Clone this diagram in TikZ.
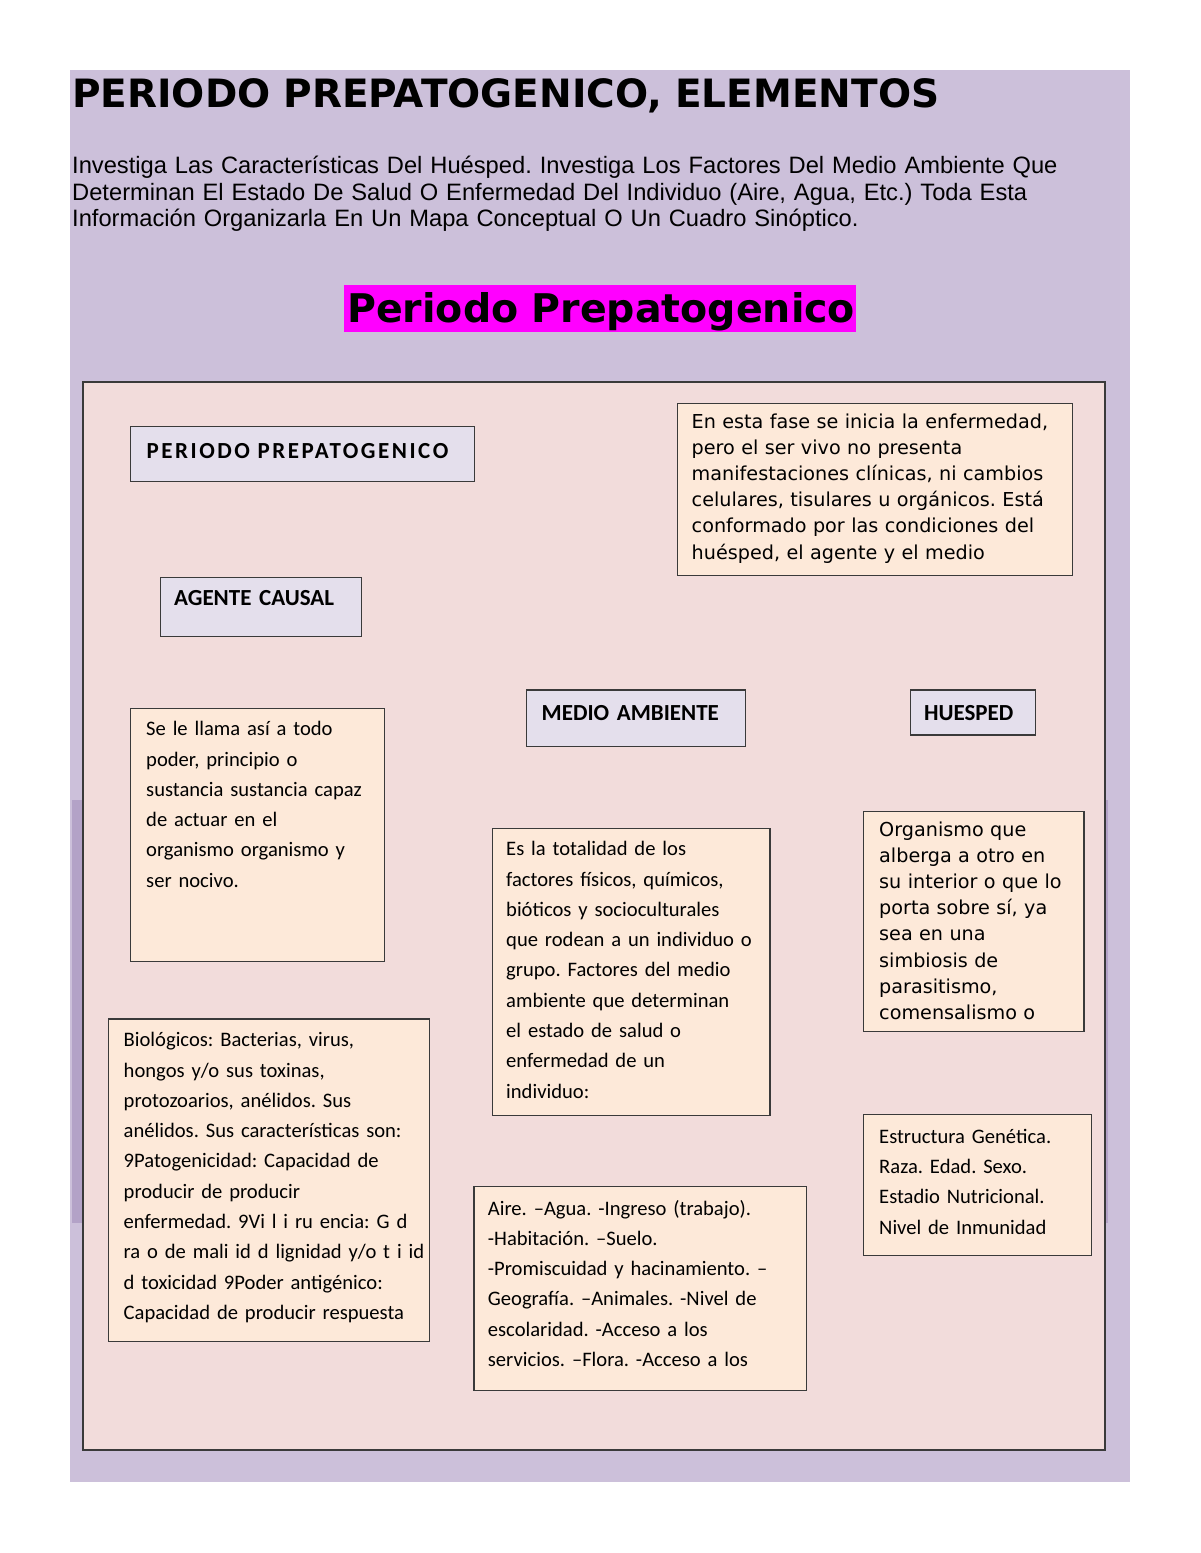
\documentclass[tikz,border=0pt]{standalone}
\usepackage{fontspec}
\setmainfont{DejaVu Sans}
\newfontfamily\dvfont{DejaVu Sans}
\newfontfamily\libfont{Liberation Sans}
\newfontfamily\calfont{Carlito}
\newfontfamily\calspaced{Carlito}[LetterSpace=11]
\frenchspacing
\definecolor{bgpurple}{HTML}{CCC0DA}
\definecolor{stripp}{HTML}{B3A2C7}
\definecolor{framepink}{HTML}{F2DCDB}
\definecolor{lav}{HTML}{E4DFEC}
\definecolor{peach}{HTML}{FDE9D9}
\definecolor{mag}{HTML}{FF00FF}
\definecolor{edge}{HTML}{3A3A3A}
\tikzset{
  boxbase/.style={draw=edge, line width=1.3pt, inner sep=0pt, anchor=north west},
  lavbox/.style={boxbase, fill=lav},
  peachbox/.style={boxbase, fill=peach},
  txt/.style={inner sep=0pt, anchor=base west, align=left, text width=#1},
  txt/.default=600pt,
  calreg/.style={font={\calfont\frenchspacing\fontsize{20.6}{30.3}\selectfont}},
  calhead/.style={font={\calfont\bfseries\fontsize{23}{28}\selectfont}},
  dvreg/.style={font={\dvfont\frenchspacing\fontsize{19.2}{26.2}\selectfont}},
}
\begin{document}
\begin{tikzpicture}[x=1pt,y=-1pt]
\useasboundingbox (0,0) rectangle (1200,1553);
\fill[white] (0,0) rectangle (1200,1553);
% page background
\fill[bgpurple] (70,70) rectangle (1130,1482);
\fill[stripp] (71.5,800) rectangle (82,1223);
\fill[stripp] (1104,800) rectangle (1107.5,1223);

% title and instructions
\node[txt=1100pt, font={\dvfont\bfseries\fontsize{39}{46}\selectfont}] (title) at (72,107) {PERIODO PREPATOGENICO, ELEMENTOS};
\node[txt=1100pt, font={\libfont\frenchspacing\fontsize{23.7}{26.7}\selectfont}] (instr) at (72,173.3) {Investiga Las Características Del Huésped. Investiga Los Factores Del Medio Ambiente Que\\Determinan El Estado De Salud O Enfermedad Del Individuo (Aire, Agua, Etc.) Toda Esta\\Información Organizarla En Un Mapa Conceptual O Un Cuadro Sinóptico.};

% highlighted heading
\node[fill=mag, inner sep=0pt, anchor=north west, minimum width=512pt, minimum height=47pt] (hlbox) at (344,285) {};
\node[txt=900pt, font={\dvfont\bfseries\fontsize{39.5}{46}\selectfont}] (hltext) at (347,322) {Periodo Prepatogenico};

% main frame
\node[draw=edge, line width=1.5pt, fill=framepink, inner sep=0pt, anchor=north west, minimum width=1022pt, minimum height=1068pt] (frame) at (82,381) {};

% header boxes
\node[lavbox, minimum width=344pt, minimum height=55pt] (bperiodo) at (130,425.5) {};
\node[txt, font={\calspaced\bfseries\fontsize{23}{28}\selectfont}] (tperiodo) at (146.5,458.3) {PERIODO PREPATOGENICO};

\node[lavbox, minimum width=200.5pt, minimum height=59pt] (bagente) at (160,576.7) {};
\node[txt, calhead] (tagente) at (174,605.7) {AGENTE CAUSAL};

\node[lavbox, minimum width=219.5pt, minimum height=56.5pt] (bmedio) at (525.5,689.3) {};
\node[txt, calhead] (tmedio) at (541.5,720) {MEDIO AMBIENTE};

\node[lavbox, minimum width=125pt, minimum height=45pt] (bhuesped) at (910,689.3) {};
\node[txt, calhead] (thuesped) at (923.8,720) {HUESPED};

% description boxes
\node[peachbox, minimum width=394.5pt, minimum height=172.5pt] (bfase) at (677,402.5) {};
\node[txt, dvreg] (tfase) at (691.5,428) {En esta fase se inicia la enfermedad,\\pero el ser vivo no presenta\\manifestaciones clínicas, ni cambios\\celulares, tisulares u orgánicos. Está\\conformado por las condiciones del\\huésped, el agente y el medio};

\node[peachbox, minimum width=253.5pt, minimum height=253pt] (bllama) at (130,707.7) {};
\node[txt, calreg] (tllama) at (146,735.7) {Se le llama así a todo\\poder, principio o\\sustancia sustancia capaz\\de actuar en el\\organismo organismo y\\ser nocivo.};

\node[peachbox, minimum width=321.5pt, minimum height=322.5pt] (bbio) at (107.5,1018.3) {};
\node[txt, calreg] (tbio) at (123.5,1046.7) {Biológicos: Bacterias, virus,\\hongos y/o sus toxinas,\\protozoarios, anélidos. Sus\\anélidos. Sus características son:\\9Patogenicidad: Capacidad de\\producir de producir\\enfermedad. 9Vi l i ru encia: G d\\ra o de mali id d lignidad y/o t i id\\d toxicidad 9Poder antigénico:\\Capacidad de producir respuesta};

\node[peachbox, minimum width=277.5pt, minimum height=287.3pt] (btotal) at (491.7,827.7) {};
\node[txt, calreg] (ttotal) at (506,855.7) {Es la totalidad de los\\factores físicos, químicos,\\bióticos y socioculturales\\que rodean a un individuo o\\grupo. Factores del medio\\ambiente que determinan\\el estado de salud o\\enfermedad de un\\individuo:};

\node[peachbox, minimum width=332.5pt, minimum height=204pt] (baire) at (473.3,1186) {};
\node[txt, calreg] (taire) at (487.7,1215) {Aire. –Agua. -Ingreso (trabajo).\\-Habitación. –Suelo.\\-Promiscuidad y hacinamiento. –\\Geografía. –Animales. -Nivel de\\escolaridad. -Acceso a los\\servicios. –Flora. -Acceso a los};

\node[peachbox, minimum width=220.5pt, minimum height=220pt] (borg) at (862.7,811) {};
\node[txt, dvreg] (torg) at (879,836) {Organismo que\\alberga a otro en\\su interior o que lo\\porta sobre sí, ya\\sea en una\\simbiosis de\\parasitismo,\\comensalismo o};

\node[peachbox, minimum width=228pt, minimum height=141pt] (bestr) at (862.7,1114) {};
\node[txt, calreg] (testr) at (879,1143.3) {Estructura Genética.\\Raza. Edad. Sexo.\\Estadio Nutricional.\\Nivel de Inmunidad};
\end{tikzpicture}
\end{document}
